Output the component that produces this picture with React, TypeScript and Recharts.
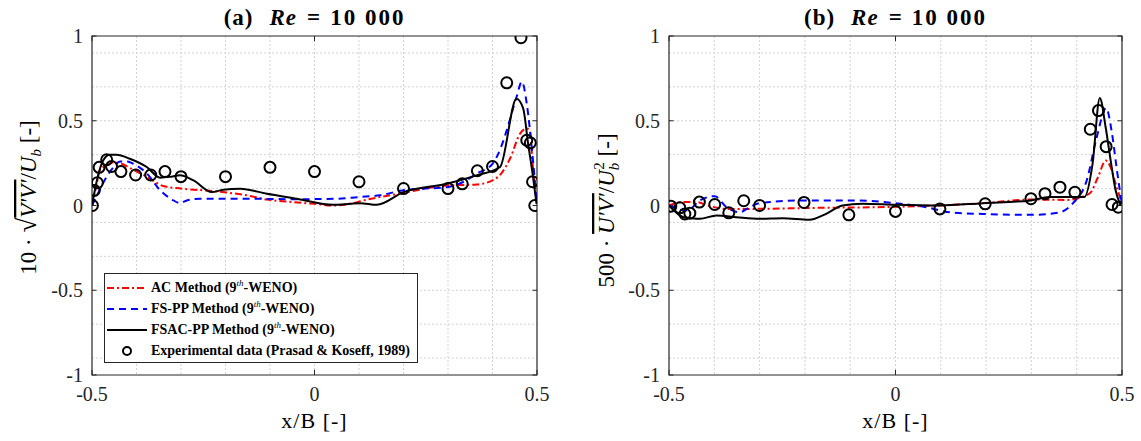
import React from 'react';
import {
  ComposedChart,
  Line,
  Scatter,
  XAxis,
  YAxis,
  CartesianGrid,
  ReferenceArea,
  ReferenceLine,
  Legend,
  Label,
} from 'recharts';

type Pt = [number, number];

const FONT = '"Liberation Serif", "Times New Roman", serif';
const INK = '#262626';

// axes
const xTicks = [-0.5, 0, 0.5];
const yTicks = [-1, -0.5, 0, 0.5, 1];
const gridX = [-0.4, -0.3, -0.2, -0.1, 0, 0.1, 0.2, 0.3, 0.4];
const gridY = [-0.9, -0.8, -0.7, -0.6, -0.5, -0.4, -0.3, -0.2, -0.1, 0, 0.1, 0.2, 0.3, 0.4, 0.5, 0.6, 0.7, 0.8, 0.9];

// (a) 10*sqrt(V'V')/Ub
const acA: Pt[] = [
  [-0.5, 0], [-0.49, 0.12], [-0.482, 0.21], [-0.465, 0.24], [-0.45, 0.255], [-0.437, 0.25],
  [-0.41, 0.215], [-0.377, 0.17], [-0.34, 0.115], [-0.3, 0.1], [-0.228, 0.085], [-0.152, 0.06],
  [-0.107, 0.035], [-0.05, 0.02], [0, 0.01], [0.04, 0.0], [0.08, 0.01], [0.11, 0.03], [0.147, 0.05],
  [0.197, 0.073], [0.25, 0.1], [0.297, 0.118], [0.364, 0.124], [0.4, 0.148], [0.42, 0.19],
  [0.44, 0.28], [0.462, 0.424], [0.477, 0.454], [0.484, 0.44], [0.49, 0.25], [0.499, 0.03],
];
const fsA: Pt[] = [
  [-0.5, 0], [-0.485, 0.08], [-0.467, 0.17], [-0.45, 0.23], [-0.437, 0.26], [-0.42, 0.26],
  [-0.407, 0.246], [-0.377, 0.19], [-0.347, 0.09], [-0.32, 0.035], [-0.302, 0.014], [-0.287, 0.03],
  [-0.257, 0.04], [-0.15, 0.04], [-0.05, 0.037], [0.05, 0.04], [0.1, 0.05], [0.147, 0.06],
  [0.197, 0.089], [0.25, 0.1], [0.297, 0.108], [0.335, 0.14], [0.366, 0.19], [0.4, 0.246],
  [0.42, 0.35], [0.432, 0.444], [0.454, 0.64], [0.466, 0.73], [0.477, 0.6], [0.488, 0.345],
  [0.495, 0.148], [0.499, 0.01],
];
const fsacA: Pt[] = [
  [-0.5, 0], [-0.489, 0.148], [-0.475, 0.266], [-0.46, 0.3], [-0.445, 0.3], [-0.415, 0.276],
  [-0.377, 0.227], [-0.347, 0.164], [-0.322, 0.17], [-0.302, 0.178], [-0.272, 0.148], [-0.231, 0.079],
  [-0.205, 0.093], [-0.167, 0.099], [-0.107, 0.069], [-0.04, 0.04], [0.042, 0.004], [0.08, 0.01],
  [0.102, 0.014], [0.14, 0.004], [0.2, 0.079], [0.297, 0.128], [0.364, 0.178], [0.417, 0.227],
  [0.454, 0.63], [0.469, 0.572], [0.48, 0.365], [0.49, 0.19], [0.499, 0.01],
];
const expA: Pt[] = [
  [-0.499, 0.0], [-0.495, 0.089], [-0.488, 0.134], [-0.484, 0.225], [-0.467, 0.27], [-0.456, 0.23],
  [-0.435, 0.2], [-0.402, 0.18], [-0.368, 0.18], [-0.336, 0.2], [-0.3, 0.17], [-0.2, 0.17],
  [-0.1, 0.225], [0, 0.2], [0.1, 0.14], [0.2, 0.1], [0.3, 0.1], [0.332, 0.128], [0.366, 0.205],
  [0.4, 0.23], [0.432, 0.724], [0.464, 0.99], [0.477, 0.385], [0.485, 0.37], [0.49, 0.14], [0.495, 0.0],
];

// (b) 500*U'V'/Ub^2
const acB: Pt[] = [
  [-0.5, 0], [-0.47, 0.02], [-0.44, 0.02], [-0.41, -0.004], [-0.373, -0.02], [-0.32, -0.02],
  [-0.176, -0.014], [0, -0.008], [0.193, 0.014], [0.299, 0.035], [0.377, 0.033], [0.428, 0.07],
  [0.447, 0.167], [0.464, 0.265], [0.475, 0.225], [0.486, 0.128], [0.499, 0.02],
];
const fsB: Pt[] = [
  [-0.5, 0], [-0.46, -0.03], [-0.432, 0.03], [-0.399, 0.055], [-0.373, -0.01], [-0.344, -0.04],
  [-0.322, -0.01], [-0.3, 0.014], [-0.204, 0.03], [-0.101, 0.03], [0, 0.014], [0.067, -0.01],
  [0.12, -0.04], [0.193, -0.05], [0.303, -0.055], [0.363, -0.04], [0.392, 0.014], [0.422, 0.147],
  [0.444, 0.4], [0.465, 0.575], [0.477, 0.44], [0.488, 0.225], [0.499, 0.02],
];
const fsacB: Pt[] = [
  [-0.5, 0], [-0.468, -0.069], [-0.45, -0.075], [-0.432, -0.078], [-0.395, -0.059], [-0.351, -0.069],
  [-0.3, -0.078], [-0.249, -0.075], [-0.19, -0.084], [-0.153, -0.049], [-0.117, 0.0], [-0.073, 0.01],
  [0, 0.004], [0.097, 0.0], [0.193, 0.014], [0.299, 0.03], [0.34, 0.05], [0.417, 0.05],
  [0.435, 0.245], [0.451, 0.634], [0.464, 0.46], [0.475, 0.265], [0.486, 0.088], [0.497, 0.0],
];
const expB: Pt[] = [
  [-0.496, -0.004], [-0.476, -0.014], [-0.465, -0.05], [-0.454, -0.045], [-0.433, 0.02],
  [-0.399, 0.006], [-0.368, -0.043], [-0.335, 0.028], [-0.3, 0.0], [-0.202, 0.018], [-0.103, -0.055],
  [0, -0.035], [0.098, -0.02], [0.198, 0.01], [0.299, 0.04], [0.33, 0.07], [0.363, 0.108],
  [0.396, 0.078], [0.43, 0.45], [0.448, 0.56], [0.465, 0.347], [0.478, 0.006], [0.492, -0.01],
];

const rows = (pts: Pt[]) => pts.map(([x, y]) => ({ x, y }));

const legendItems = [
  { name: 'AC Method', color: '#ff0000', dash: '7 3 2 3', kind: 'line' },
  { name: 'FS-PP Method', color: '#0000ff', dash: '7 5', kind: 'line' },
  { name: 'FSAC-PP Method', color: '#000000', dash: undefined, kind: 'line' },
  { name: 'Experimental data (Prasad & Koseff, 1989)', color: '#000000', dash: undefined, kind: 'dot' },
];

const LegendBox = () => (
  <div
    style={{
      width: 314,
      height: 90,
      boxSizing: 'border-box',
      border: `1px solid ${INK}`,
      background: '#fff',
      padding: '3px 0 0 0',
      fontFamily: FONT,
      fontWeight: 'bold',
      fontSize: 14,
      color: '#000',
    }}
  >
    {legendItems.map((it) => (
      <div key={it.name} style={{ display: 'flex', alignItems: 'center', height: 21 }}>
        <svg width={46} height={12} style={{ flex: 'none' }}>
          {it.kind === 'line' ? (
            <line x1={2} x2={42} y1={6} y2={6} stroke={it.color} strokeWidth={2} strokeDasharray={it.dash} />
          ) : (
            <circle cx={22} cy={6} r={4} fill="none" stroke="#000" strokeWidth={2} />
          )}
        </svg>
        <span style={{ whiteSpace: 'nowrap' }}>
          {it.name}
          {it.kind === 'line' && (
            <>
              {' (9'}
              <span style={{ fontSize: 9, fontStyle: 'italic', fontWeight: 'normal', position: 'relative', top: -6 }}>th</span>
              {'-WENO)'}
            </>
          )}
        </span>
      </div>
    ))}
  </div>
);

const YLabelA = (props: any) => {
  const vb = props.viewBox || {};
  const cx = vb.x - 6;
  const cy = vb.y + vb.height / 2 - 8;
  return (
    <text x={cx} y={cy} transform={`rotate(-90, ${cx}, ${cy})`} textAnchor="middle" fontFamily={FONT} fontSize={23} fill="#000">
      <tspan>10 · </tspan>
      <tspan fontSize={27}>√</tspan>
      <tspan fontStyle="italic" style={{ textDecoration: 'overline' }}>V′V′</tspan>
      <tspan>/</tspan>
      <tspan fontStyle="italic">U</tspan>
      <tspan fontStyle="italic" fontSize={15} dy={5}>b</tspan>
      <tspan dy={-5}> [-]</tspan>
    </text>
  );
};

const YLabelB = (props: any) => {
  const vb = props.viewBox || {};
  const cx = vb.x - 5;
  const cy = vb.y + vb.height / 2 + 5;
  return (
    <text x={cx} y={cy} transform={`rotate(-90, ${cx}, ${cy})`} textAnchor="middle" fontFamily={FONT} fontSize={23} fill="#000">
      <tspan>500 · </tspan>
      <tspan fontStyle="italic" style={{ textDecoration: 'overline' }}>U′V′</tspan>
      <tspan>/</tspan>
      <tspan fontStyle="italic">U</tspan>
      <tspan fontStyle="italic" fontSize={15} dy={5}>b</tspan>
      <tspan fontSize={15} dx={-7} dy={-15}>2</tspan>
      <tspan dy={10}> [-]</tspan>
    </text>
  );
};

const Ring = (p: any) => <circle cx={p.cx} cy={p.cy} r={5.5} fill="none" stroke="#000" strokeWidth={2} />;

const tickStyle = { fill: '#262626', fontSize: 20, fontFamily: FONT };

type PanelProps = {
  left: number;
  width: number;
  mLeft: number;
  mRight: number;
  tag: string;
  ac: Pt[];
  fs: Pt[];
  fsac: Pt[];
  exp: Pt[];
  yLabel: any;
  legend?: boolean;
};

const Panel = ({ left, width, mLeft, mRight, tag, ac, fs, fsac, exp, yLabel, legend }: PanelProps) => {
  const plotL = mLeft + 50;
  const plotW = width - plotL - mRight;
  return (
    <div style={{ position: 'absolute', left, top: 0, width, height: 441 }}>
      <div
        style={{
          position: 'absolute',
          left: plotL,
          width: plotW,
          top: 5,
          textAlign: 'center',
          fontFamily: FONT,
          fontWeight: 'bold',
          fontSize: 23,
          lineHeight: '25px',
          color: '#000',
          whiteSpace: 'nowrap',
        }}
      >
        <span style={{ letterSpacing: 1 }}>{tag}</span>
        <span style={{ fontStyle: 'italic', marginLeft: 16, letterSpacing: 1 }}>Re</span>
        <span style={{ margin: '0 10px' }}>=</span>
        <span style={{ letterSpacing: 2 }}>10 000</span>
      </div>
      <ComposedChart width={width} height={441} margin={{ top: 36, right: mRight, bottom: 26, left: mLeft }}>
        <CartesianGrid stroke="#d2d2d2" strokeDasharray="2 2" verticalValues={gridX} horizontalValues={gridY} />
        <XAxis
          type="number"
          dataKey="x"
          domain={[-0.5, 0.5]}
          ticks={xTicks}
          allowDataOverflow
          axisLine={false}
          tickLine={false}
          tickSize={6}
          tickMargin={6}
          height={40}
          tick={tickStyle}
          tickFormatter={(v: number) => String(v)}
        >
          <Label value="x/B [-]" position="insideBottom" offset={-13} fontFamily={FONT} fontSize={22} fill="#000" letterSpacing={1} />
        </XAxis>
        <YAxis
          type="number"
          dataKey="y"
          domain={[-1, 1]}
          ticks={yTicks}
          allowDataOverflow
          axisLine={false}
          tickLine={false}
          tickSize={6}
          tickMargin={3}
          width={50}
          tick={tickStyle}
          tickFormatter={(v: number) => String(v)}
        >
          <Label content={yLabel} />
        </YAxis>
        <ReferenceArea x1={-0.5} x2={0.5} y1={-1} y2={1} fill="none" stroke={INK} strokeWidth={1.2} />
        {xTicks.map((v) => (
          <ReferenceLine key={`xb${v}`} segment={[{ x: v, y: -1 }, { x: v, y: -0.97 }]} stroke={INK} />
        ))}
        {xTicks.map((v) => (
          <ReferenceLine key={`xt${v}`} segment={[{ x: v, y: 1 }, { x: v, y: 0.97 }]} stroke={INK} />
        ))}
        {yTicks.map((v) => (
          <ReferenceLine key={`yl${v}`} segment={[{ x: -0.5, y: v }, { x: -0.49, y: v }]} stroke={INK} />
        ))}
        {yTicks.map((v) => (
          <ReferenceLine key={`yr${v}`} segment={[{ x: 0.5, y: v }, { x: 0.49, y: v }]} stroke={INK} />
        ))}
        <Line data={rows(ac)} dataKey="y" type="monotone" stroke="#ff0000" strokeWidth={2} strokeDasharray="7 3 2 3" dot={false} isAnimationActive={false} />
        <Line data={rows(fs)} dataKey="y" type="monotone" stroke="#0000ff" strokeWidth={2} strokeDasharray="7 5" dot={false} isAnimationActive={false} />
        <Line data={rows(fsac)} dataKey="y" type="monotone" stroke="#000000" strokeWidth={2} dot={false} isAnimationActive={false} />
        <Scatter data={rows(exp)} dataKey="y" shape={Ring} isAnimationActive={false} />
        {legend && (
          <Legend
            layout="vertical"
            align="center"
            verticalAlign="middle"
            content={() => <LegendBox />}
            wrapperStyle={{ left: 104, top: 273, width: 314, height: 90 }}
          />
        )}
      </ComposedChart>
    </div>
  );
};

export default function App() {
  return (
    <div style={{ position: 'absolute', left: 0, top: 0, width: 1141, height: 441, background: '#fff' }}>
      <Panel left={0} width={570} mLeft={42} mRight={33} tag="(a)" ac={acA} fs={fsA} fsac={fsacA} exp={expA} yLabel={YLabelA} legend />
      <Panel left={570} width={571} mLeft={49} mRight={19} tag="(b)" ac={acB} fs={fsB} fsac={fsacB} exp={expB} yLabel={YLabelB} />
    </div>
  );
}
